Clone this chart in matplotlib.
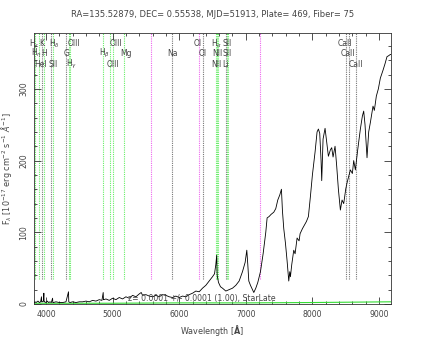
import numpy as np
import matplotlib
matplotlib.use("Agg")
import matplotlib.pyplot as plt
from matplotlib.ticker import MultipleLocator

plt.rcParams['font.family'] = ['DejaVu Sans']
plt.rcParams['mathtext.fontset'] = 'dejavusans'

# spectrum (wavelength in Angstrom, flux in 1e-17 units)
wave = [3820, 3835, 3850, 3880, 3900, 3920, 3932, 3936, 3945, 3960, 3968, 3972, 3980,
        4000, 4020, 4040, 4060, 4080, 4099, 4103, 4110, 4150, 4200, 4250, 4300, 4338,
        4342, 4360, 4400, 4450, 4500, 4550, 4600, 4650, 4700, 4750, 4800, 4840, 4859,
        4863, 4870, 4900, 4950, 5000, 5050, 5100, 5150, 5200, 5250, 5300, 5350, 5400,
        5430, 5450, 5500, 5550, 5600, 5650, 5700, 5750, 5800, 5850, 5900, 5950, 6000,
        6050, 6100, 6150, 6200, 6250, 6300, 6350, 6400, 6450, 6500, 6530, 6550, 6563,
        6570, 6590, 6620, 6650, 6700, 6750, 6800, 6850, 6900, 6950, 6990, 7015, 7030,
        7045, 7070, 7100, 7120, 7150, 7180, 7220, 7260, 7300, 7320, 7350, 7380, 7420,
        7450, 7480, 7510, 7535, 7550, 7570, 7595, 7620, 7645, 7660, 7670, 7690, 7720,
        7740, 7770, 7800, 7815, 7850, 7880, 7910, 7940, 7970, 8000, 8040, 8070, 8090,
        8110, 8130, 8140, 8160, 8190, 8215, 8240, 8270, 8290, 8310, 8340, 8365, 8390,
        8420, 8445, 8470, 8500, 8520, 8545, 8570, 8600, 8620, 8645, 8680, 8720, 8750,
        8770, 8790, 8820, 8845, 8870, 8890, 8910, 8930, 8960, 8990, 9020, 9060, 9090,
        9120, 9140, 9170, 9180]
flux = [2, 3, 2, 4, 2, 3, 10, 3, 3, 4, 15, 3, 3,
        2, 4, 2, 3, 2, 8, 2, 2, 3, 2, 2, 3, 17,
        3, 2, 3, 2, 3, 3, 4, 3, 5, 4, 6, 5, 16,
        6, 6, 7, 5, 8, 6, 9, 7, 10, 8, 12, 10, 14,
        16, 12, 13, 11, 10, 12, 10, 13, 12, 10, 9, 11, 9,
        11, 10, 13, 15, 18, 17, 22, 26, 32, 38, 42, 55, 68,
        40, 30, 24, 22, 18, 20, 22, 26, 32, 45, 58, 75, 55,
        32, 26, 20, 16, 22, 30, 45, 70, 100, 120, 122, 125, 128,
        133, 145, 152, 160, 130, 105, 85, 60, 32, 45, 38, 55, 75,
        70, 92, 88, 98, 105, 110, 115, 122, 150, 180, 212, 240, 244,
        238, 200, 172, 230, 245, 225, 206, 215, 218, 205, 220, 192, 160,
        131, 145, 140, 160, 169, 178, 187, 182, 200, 187, 215, 244, 262,
        269, 250, 204, 240, 253, 265, 276, 270, 290, 300, 315, 326, 335,
        345, 346, 348, 348]

# error spectrum (green, along the bottom)
err_wave = [3820, 5000, 6000, 7000, 8000, 9180]
err_flux = [1.0, 1.0, 1.5, 1.5, 2.0, 3.0]

# marked lines: wavelength and colour
line_wave = [3835, 3889, 3934, 3970, 4072, 4102, 4304, 4340, 4363, 4861, 4959, 5007,
             5175, 5577, 5894, 6300, 6363, 6548, 6563, 6583, 6707, 6716, 6731, 7210,
             8498, 8542, 8662]
line_col = ['g', 'g', 'k', 'g', 'k', 'g', 'k', 'g', 'g', 'g', 'g', 'g',
            'g', 'm', 'k', 'm', 'k', 'g', 'g', 'g', 'k', 'g', 'g', 'm',
            'k', 'k', 'k']

# line labels: text, centre wavelength, row
lab_text = ["H$_\\epsilon$", "K", "H$_\\delta$", "OIII", "OIII", "OI", "H$_\\alpha$", "SII", "CaII",
            "H$_\\eta$", "H", "G", "H$_\\beta$", "Mg", "Na", "OI", "NII", "SII", "CaII",
            "HeI", "SII", "H$_\\gamma$", "OIII", "NII", "Li", "CaII"]
lab_wave = [3828, 3937, 4128, 4420, 5055, 6285, 6560, 6718, 8482,
            3865, 3977, 4303, 4885, 5203, 5905, 6355, 6575, 6722, 8527,
            3925, 4105, 4380, 5002, 6560, 6693, 8647]
lab_row = [0, 0, 0, 0, 0, 0, 0, 0, 0,
           1, 1, 1, 1, 1, 1, 1, 1, 1, 1,
           2, 2, 2, 2, 2, 2, 2]

colmap = {'g': '#66ee66', 'k': '#777777', 'm': '#ee66ee'}
txt = '#444444'

fig = plt.figure(figsize=(4.25, 3.4), dpi=100)
ax = fig.add_axes([0.08, 0.106, 0.84, 0.797])

ymax = 378
for w, c in zip(line_wave, line_col):
    ax.axvline(w, ymin=35 / ymax, ymax=1, color=colmap[c], linestyle=(0, (1, 1)),
               linewidth=0.8, zorder=1)

ax.plot(err_wave, err_flux, color='#33dd33', linewidth=0.8, zorder=2)
ax.plot(wave, flux, color='black', linewidth=0.6, zorder=3)

row_y = [0.962, 0.925, 0.884]
for t, w, r in zip(lab_text, lab_wave, lab_row):
    ax.text(w, row_y[r], t, transform=ax.get_xaxis_transform(), ha='center', va='center',
            fontsize=5.5, color=txt, zorder=4)

ax.text(5236, 7, "z= 0.0001 +/- 0.0001 (1.00), StarLate", ha='left', va='center',
        fontsize=5.6, color=txt, zorder=4)

ax.set_xlim(3820, 9180)
ax.set_ylim(0, ymax)
ax.xaxis.set_major_locator(MultipleLocator(1000))
ax.xaxis.set_minor_locator(MultipleLocator(200))
ax.yaxis.set_major_locator(MultipleLocator(100))
ax.yaxis.set_minor_locator(MultipleLocator(20))
ax.tick_params(which='both', direction='in', top=True, right=True, colors='#333333',
               labelcolor=txt, labelsize=5.6, width=0.6)
ax.tick_params(which='major', length=5)
ax.tick_params(which='minor', length=2.5)
ax.tick_params(axis='x', pad=4)
ax.tick_params(axis='y', pad=4)
for lbl in ax.get_yticklabels():
    lbl.set_rotation(90)
    lbl.set_va('center')
for s in ax.spines.values():
    s.set_linewidth(0.6)
    s.set_color('#333333')

ax.set_xlabel("Wavelength [$\\mathbf{\\AA}$]", fontsize=5.8, color=txt, labelpad=3)
ax.set_ylabel("F$_\\lambda$ [10$^{-17}$ erg cm$^{-2}$ s$^{-1}$ $\\AA^{-1}$]", fontsize=5.8,
              color=txt, labelpad=4)
fig.text(0.5, 0.956, "RA=135.52879, DEC= 0.55538, MJD=51913, Plate= 469, Fiber= 75",
         ha='center', va='center', fontsize=6, color=txt)

fig.savefig("out.png", dpi=100)
